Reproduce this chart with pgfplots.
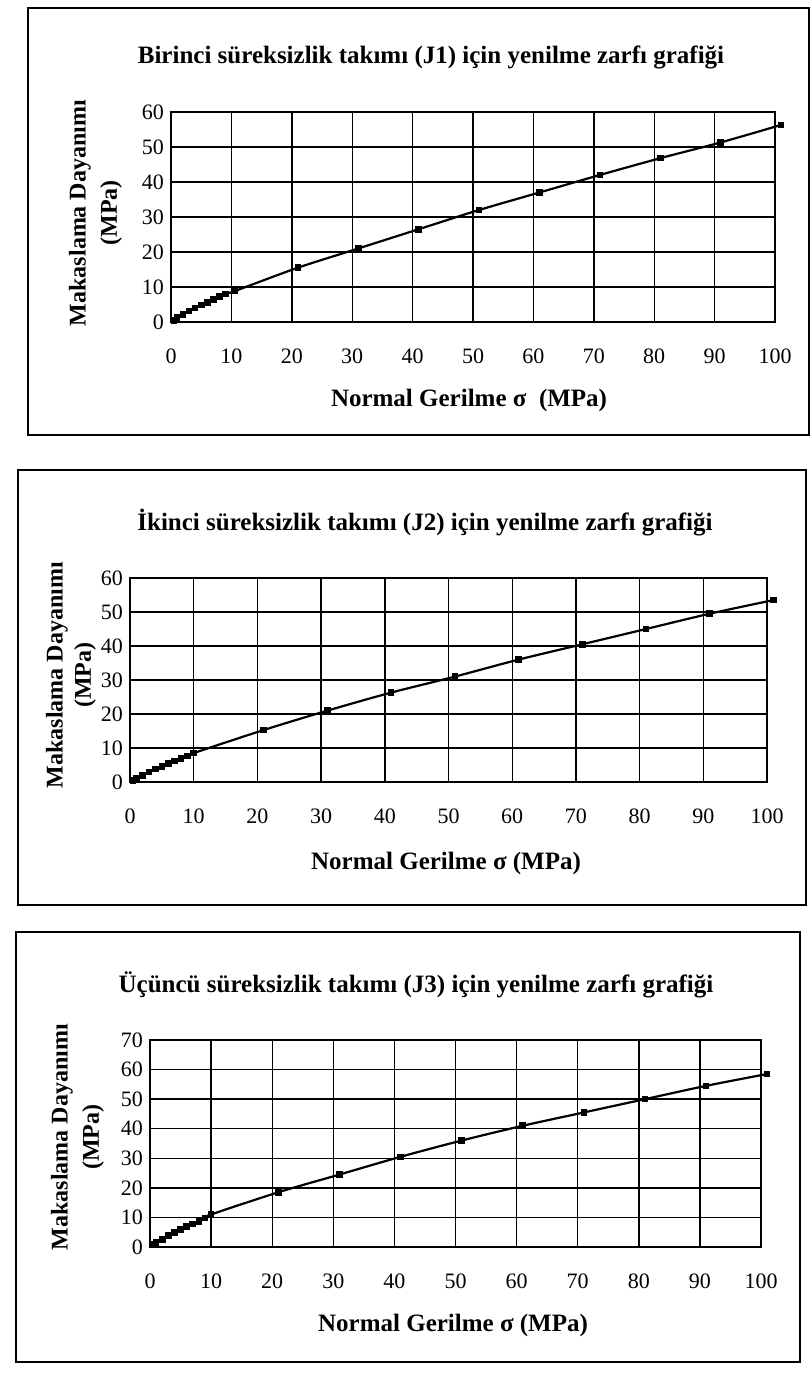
\documentclass[border=0pt]{standalone}
\usepackage{pgfplots}
\pgfplotsset{compat=1.18}
\usepackage{fontspec}
\setmainfont{Liberation Serif}
\begin{document}
\begin{tikzpicture}
\pgfplotsset{myax/.style={scale only axis, anchor=north west,
  xmin=0, xmax=100, ymin=0,
  xtick={0,10,...,100},
  grid=major, major grid style={black, line width=0.7pt},
  axis line style={black, line width=0.8pt},
  tick style={draw=none},
  ticklabel style={font=\fontsize{11}{12}\selectfont},
  /pgf/number format/assume math mode=true,
  xticklabel style={anchor=center, yshift=-17pt},
  clip=false},
  myplot/.style={black, line width=1.1pt, smooth, mark=square*, mark size=1.1pt, mark options={solid}}}
\begin{scope}[x=0.5pt,y=-0.5pt]
\path[use as bounding box] (0,0) rectangle (812,1374);
\draw[line width=0.7pt] (28,8) rectangle (809,435);
\node[font=\bfseries\fontsize{12.5}{14}\selectfont] at (431,57) {Birinci süreksizlik takımı (J1) için yenilme zarfı grafiği};
\node[font=\bfseries\fontsize{12.5}{14}\selectfont] at (469,400) {Normal Gerilme σ\ \ (MPa)};
\node[font=\bfseries\fontsize{12}{14}\selectfont, rotate=90] at (80,213) {Makaslama Dayanımı};
\node[font=\bfseries\fontsize{12}{14}\selectfont, rotate=90] at (111,213) {(MPa)};
\draw[line width=0.7pt] (18,470) rectangle (806,905);
\node[font=\bfseries\fontsize{12.5}{14}\selectfont] at (425,523) {İkinci süreksizlik takımı (J2) için yenilme zarfı grafiği};
\node[font=\bfseries\fontsize{12.5}{14}\selectfont] at (446,863) {Normal Gerilme σ (MPa)};
\node[font=\bfseries\fontsize{12}{14}\selectfont, rotate=90] at (57,675) {Makaslama Dayanımı};
\node[font=\bfseries\fontsize{12}{14}\selectfont, rotate=90] at (85,675) {(MPa)};
\draw[line width=0.7pt] (16,932) rectangle (800,1362);
\node[font=\bfseries\fontsize{12.5}{14}\selectfont] at (416,985) {Üçüncü süreksizlik takımı (J3) için yenilme zarfı grafiği};
\node[font=\bfseries\fontsize{12.5}{14}\selectfont] at (453,1325) {Normal Gerilme σ (MPa)};
\node[font=\bfseries\fontsize{12}{14}\selectfont, rotate=90] at (62,1137) {Makaslama Dayanımı};
\node[font=\bfseries\fontsize{12}{14}\selectfont, rotate=90] at (93,1137) {(MPa)};
\end{scope}
% Panel 1
\begin{axis}[myax, at={(85.5pt,-56pt)}, width=302pt, height=105pt, ymax=60, ytick={0,10,...,60}]
\addplot[myplot] coordinates {(0.5,0.5)(1,1.2)(2,2.2)(3,3.1)(4,4)(5,4.8)(6,5.6)(7,6.4)(8,7.2)(9,8)(10.5,8.8)(21,15.5)(31,21)(41,26.5)(51,32)(61,37)(71,42)(81,46.8)(91,51.3)(101,56.3)};
\end{axis}
% Panel 2
\begin{axis}[myax, at={(65pt,-289pt)}, width=318.5pt, height=102pt, ymax=60, ytick={0,10,...,60}]
\addplot[myplot] coordinates {(0.5,0.5)(1,1.1)(2,2)(3,2.9)(4,3.8)(5,4.6)(6,5.4)(7,6.2)(8,7)(9,7.7)(10,8.5)(21,15.3)(31,21)(41,26.3)(51,31)(61,36)(71,40.5)(81,45)(91,49.5)(101,53.5)};
\end{axis}
% Panel 3
\begin{axis}[myax, at={(75pt,-520pt)}, width=305.5pt, height=103.5pt, ymax=70, ytick={0,10,...,70}]
\addplot[myplot] coordinates {(0.5,1)(1,1.6)(2,2.6)(3,3.8)(4,5)(5,6)(6,7)(7,7.8)(8,8.6)(9,9.8)(10,11)(21,18.5)(31,24.5)(41,30.5)(51,36)(61,41)(71,45.5)(81,50)(91,54.5)(101,58.5)};
\end{axis}
\end{tikzpicture}
\end{document}
